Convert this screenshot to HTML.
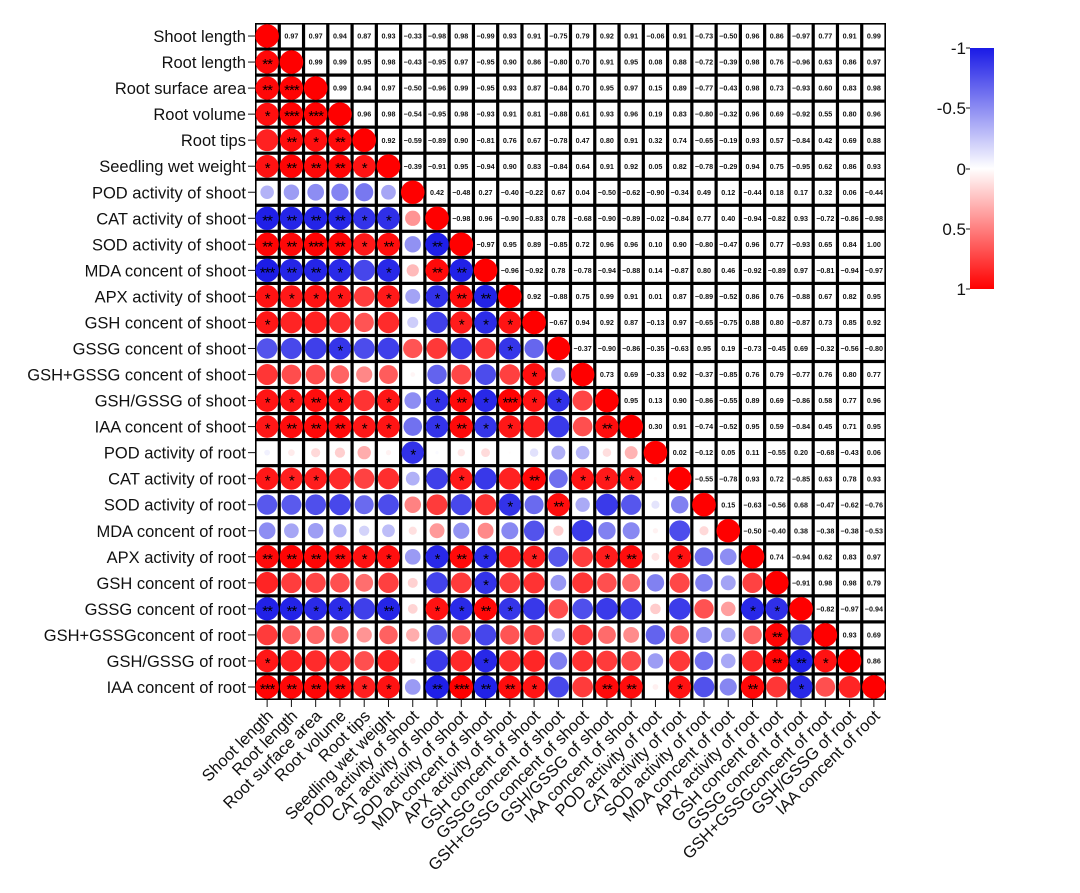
<!DOCTYPE html>
<html><head><meta charset="utf-8"><style>
html,body{margin:0;padding:0;background:#fff;}
svg{display:block;font-family:"Liberation Sans",Arial,sans-serif;}
</style></head><body>
<svg id="chart" width="1080" height="893" viewBox="0 0 1080 893" xmlns="http://www.w3.org/2000/svg">
<defs><linearGradient id="cg" x1="0" y1="0" x2="0" y2="1">
<stop offset="0" stop-color="#1a1ae6"/><stop offset="0.5" stop-color="#ffffff"/><stop offset="1" stop-color="#ff0000"/></linearGradient></defs>
<g id="grid"></g>
<g id="rowlabels"></g>
<g id="collabels"></g>
<g>
<rect x="970" y="48" width="24" height="241" fill="url(#cg)"/>
<g font-size="17" text-anchor="end" fill="#111">
<text x="966" y="54">-1</text>
<text x="966" y="114">-0.5</text>
<text x="966" y="175">0</text>
<text x="966" y="235">0.5</text>
<text x="966" y="295">1</text>
</g>
<g stroke="#111" stroke-width="1">
<line x1="966" y1="48" x2="970" y2="48"/><line x1="966" y1="108" x2="970" y2="108"/><line x1="966" y1="169" x2="970" y2="169"/><line x1="966" y1="229" x2="970" y2="229"/><line x1="966" y1="289" x2="970" y2="289"/>
</g>
</g>
</svg>
<script>
const labels = ["Shoot length","Root length","Root surface area","Root volume","Root tips","Seedling wet weight","POD activity of shoot","CAT activity of shoot","SOD activity of shoot","MDA concent of shoot","APX activity of shoot","GSH concent of shoot","GSSG concent of shoot","GSH+GSSG concent of shoot","GSH/GSSG of shoot","IAA concent of shoot","POD activity of root","CAT activity of root","SOD activity of root","MDA concent of root","APX activity of root","GSH concent of root","GSSG concent of root","GSH+GSSGconcent of root","GSH/GSSG of root","IAA concent of root"];
const row0 = [0.97,0.97,0.94,0.87,0.93,-0.33,-0.98,0.98,-0.99,0.93,0.91,-0.75,0.79,0.92,0.91,-0.06,0.91,-0.73,-0.50,0.96,0.86,-0.97,0.77,0.91,0.99];
const row1 = [0.99,0.99,0.95,0.98,-0.43,-0.95,0.97,-0.95,0.90,0.86,-0.80,0.70,0.91,0.95,0.08,0.88,-0.72,-0.39,0.98,0.76,-0.96,0.63,0.86,0.97];
const row2 = [0.99,0.94,0.97,-0.50,-0.96,0.99,-0.95,0.93,0.87,-0.84,0.70,0.95,0.97,0.15,0.89,-0.77,-0.43,0.98,0.73,-0.93,0.60,0.83,0.98];
const row3 = [0.96,0.98,-0.54,-0.95,0.98,-0.93,0.91,0.81,-0.88,0.61,0.93,0.96,0.19,0.83,-0.80,-0.32,0.96,0.69,-0.92,0.55,0.80,0.96];
const row4 = [0.92,-0.59,-0.89,0.90,-0.81,0.76,0.67,-0.78,0.47,0.80,0.91,0.32,0.74,-0.65,-0.19,0.93,0.57,-0.84,0.42,0.69,0.88];
const row5 = [-0.39,-0.91,0.95,-0.94,0.90,0.83,-0.84,0.64,0.91,0.92,0.05,0.82,-0.78,-0.29,0.94,0.75,-0.95,0.62,0.86,0.93];
const row6 = [0.42,-0.48,0.27,-0.40,-0.22,0.67,0.04,-0.50,-0.62,-0.90,-0.34,0.49,0.12,-0.44,0.18,0.17,0.32,0.06,-0.44];
const row7 = [-0.98,0.96,-0.90,-0.83,0.78,-0.68,-0.90,-0.89,-0.02,-0.84,0.77,0.40,-0.94,-0.82,0.93,-0.72,-0.86,-0.98];
const row8 = [-0.97,0.95,0.89,-0.85,0.72,0.96,0.96,0.10,0.90,-0.80,-0.47,0.96,0.77,-0.93,0.65,0.84,1.00];
const row9 = [-0.96,-0.92,0.78,-0.78,-0.94,-0.88,0.14,-0.87,0.80,0.46,-0.92,-0.89,0.97,-0.81,-0.94,-0.97];
const row10 = [0.92,-0.88,0.75,0.99,0.91,0.01,0.87,-0.89,-0.52,0.86,0.76,-0.88,0.67,0.82,0.95];
const row11 = [-0.67,0.94,0.92,0.87,-0.13,0.97,-0.65,-0.75,0.88,0.80,-0.87,0.73,0.85,0.92];
const row12 = [-0.37,-0.90,-0.86,-0.35,-0.63,0.95,0.19,-0.73,-0.45,0.69,-0.32,-0.56,-0.80];
const row13 = [0.73,0.69,-0.33,0.92,-0.37,-0.85,0.76,0.79,-0.77,0.76,0.80,0.77];
const row14 = [0.95,0.13,0.90,-0.86,-0.55,0.89,0.69,-0.86,0.58,0.77,0.96];
const row15 = [0.30,0.91,-0.74,-0.52,0.95,0.59,-0.84,0.45,0.71,0.95];
const row16 = [0.02,-0.12,0.05,0.11,-0.55,0.20,-0.68,-0.43,0.06];
const row17 = [-0.55,-0.78,0.93,0.72,-0.85,0.63,0.78,0.93];
const row18 = [0.15,-0.63,-0.56,0.68,-0.47,-0.62,-0.76];
const row19 = [-0.50,-0.40,0.38,-0.38,-0.38,-0.53];
const row20 = [0.74,-0.94,0.62,0.83,0.97];
const row21 = [-0.91,0.98,0.98,0.79];
const row22 = [-0.82,-0.97,-0.94];
const row23 = [0.93,0.69];
const row24 = [0.86];
const upperRows = [row0,row1,row2,row3,row4,row5,row6,row7,row8,row9,row10,row11,row12,row13,row14,row15,row16,row17,row18,row19,row20,row21,row22,row23,row24];

const NS = "http://www.w3.org/2000/svg";
const n = labels.length;
const X0 = 255, X1 = 886, Y0 = 23, Y1 = 700;
const cw = (X1 - X0) / n, ch = (Y1 - Y0) / n;
const xPos = i => X0 + i * cw;
const yPos = i => Y0 + i * ch;
function corr(i, j) { if (i === j) return 1; const a = Math.min(i, j), b = Math.max(i, j); return upperRows[a][b - a - 1]; }
function color(r) {
  const t = Math.min(1, Math.abs(r));
  if (r >= 0) { const v = Math.round(255 * (1 - t)); return `rgb(255,${v},${v})`; }
  return `rgb(${Math.round(255 - (255 - 26) * t)},${Math.round(255 - (255 - 26) * t)},${Math.round(255 - (255 - 230) * t)})`;
}
function stars(r) { const a = Math.abs(r); return a >= 0.99 ? "***" : a >= 0.95 ? "**" : a >= 0.88 ? "*" : ""; }
function mk(tag, attrs, parent) { const e = document.createElementNS(NS, tag); for (const k in attrs) e.setAttribute(k, attrs[k]); parent.appendChild(e); return e; }

const grid = document.getElementById('grid');
const bg = mk('rect', {x: X0, y: Y0, width: X1 - X0, height: Y1 - Y0, fill: '#000'}, grid);


const maxR = 11.8;
for (let i = 0; i < n; i++) {
  for (let j = 0; j < n; j++) {
    const r = corr(i, j);
    const g = mk('g', {}, grid);
    
    
    mk('rect', {x: xPos(j) + 1.6, y: yPos(i) + 1.6, width: cw - 3.2, height: ch - 3.2, fill: '#fff'}, g);
    const cx = xPos(j) + cw / 2, cy = yPos(i) + ch / 2;
    if (j > i) {
      const t = mk('text', {x: cx, y: cy + 2.6, 'text-anchor': 'middle', 'font-size': 7.2, 'font-weight': 'bold', fill: '#111'}, g);
      t.textContent = r.toFixed(2).replace('-', '\u2212');
    } else {
      const rad = i === j ? maxR : Math.max(0.8, maxR * Math.sqrt(Math.abs(r)));
      const c = mk('circle', {cx: cx, cy: cy, r: rad, fill: color(r)}, g);
      
      
      if (i !== j) {
        const s = stars(r);
        if (s) { const t = mk('text', {x: cx, y: cy + 7, 'text-anchor': 'middle', 'font-size': 15, 'letter-spacing': '-1', fill: '#000'}, g); t.textContent = s; }
      }
    }
  }
}
const rl = document.getElementById('rowlabels');
const cl = document.getElementById('collabels');
labels.forEach((lab, i) => {
  const cy = yPos(i) + ch / 2;
  const t = mk('text', {x: 246, y: cy + 6, 'text-anchor': 'end', 'font-size': 16.5, fill: '#111'}, rl);
  t.textContent = lab;
  
  
  mk('line', {x1: 248, y1: cy, x2: 255, y2: cy, stroke: '#111', 'stroke-width': 1}, rl);
  const cx = xPos(i) + cw / 2;
  mk('line', {x1: cx, y1: 700, x2: cx, y2: 707, stroke: '#111', 'stroke-width': 1}, cl);
  const c = mk('text', {x: 0, y: 0, 'text-anchor': 'end', 'font-size': 16.5, fill: '#111', transform: `translate(${cx + 7},${717}) rotate(-45)`}, cl);
  c.textContent = lab;
  
  
});
</script>
</body></html>
